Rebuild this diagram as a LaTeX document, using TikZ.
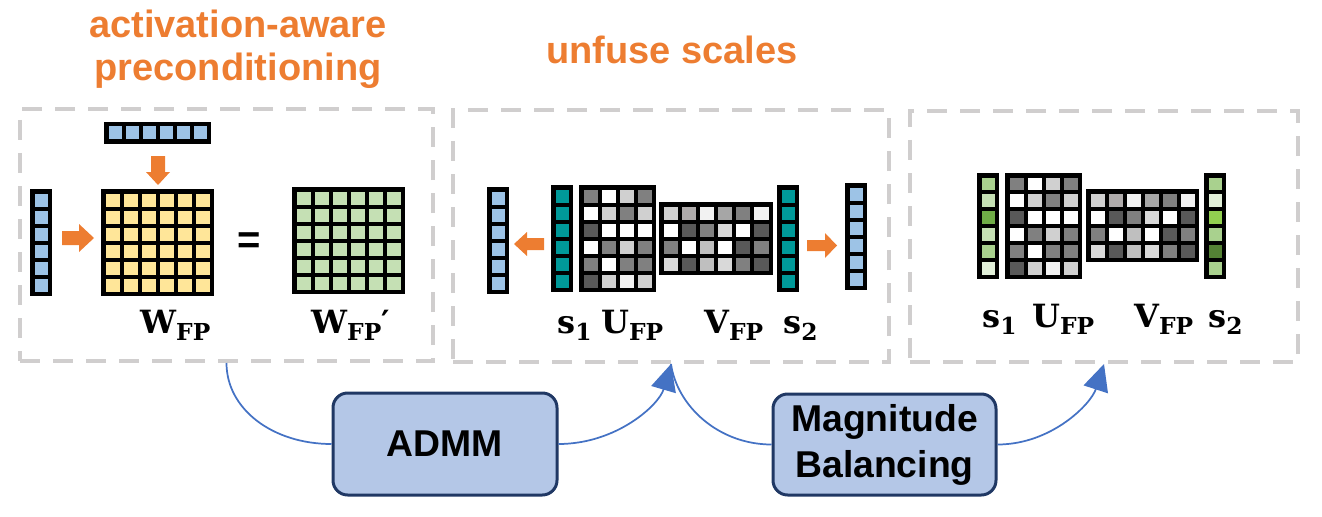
\documentclass[tikz,border=0pt]{standalone}
\usepackage{fontspec}
\setsansfont{Liberation Sans}
\newfontfamily\lblfont{DejaVu Serif}
\usetikzlibrary{arrows.meta}
\definecolor{blu}{HTML}{9DC3E6}
\definecolor{yel}{HTML}{FFE699}
\definecolor{grn}{HTML}{C5E0B4}
\definecolor{tea}{HTML}{009999}
\definecolor{orng}{HTML}{ED7D31}
\definecolor{dashgray}{HTML}{D0CECE}
\definecolor{boxfill}{HTML}{B4C7E7}
\definecolor{boxline}{HTML}{203864}
\definecolor{connblue}{HTML}{4472C4}
\definecolor{gM}{HTML}{808080}
\definecolor{gD}{HTML}{595959}
\definecolor{gL}{HTML}{D0D0D0}
\definecolor{gLL}{HTML}{F2F2F2}
\definecolor{gA}{HTML}{A6A6A6}
\definecolor{gB}{HTML}{BFBFBF}
\definecolor{gT}{HTML}{AFABAB}
\definecolor{gK}{HTML}{D9D9D9}
\definecolor{grA}{HTML}{A9D18E}
\definecolor{grB}{HTML}{C5E0B4}
\definecolor{grC}{HTML}{70AD47}
\definecolor{grD}{HTML}{E2F0D9}
\definecolor{grE}{HTML}{92D050}
\definecolor{grF}{HTML}{548235}
% grid of cells: x0, y0, W, H, ncols, nrows, colour list
\newcommand{\cellgrid}[7]{%
  \fill[black] (#1,#2) rectangle ++(#3,#4);
  \pgfmathsetmacro\cgpx{(#3-5)/#5}%
  \pgfmathsetmacro\cgpy{(#4-5)/#6}%
  \foreach \cgc [count=\cgk from 0] in {#7} {%
    \pgfmathtruncatemacro\cgi{mod(\cgk,#5)}%
    \pgfmathtruncatemacro\cgj{\cgk/#5}%
    \fill[\cgc] ({#1+4.5+\cgi*\cgpx},{#2+4.5+\cgj*\cgpy}) rectangle ++({\cgpx-4},{\cgpy-4});
  }%
}
% uniform grid: x0, y0, W, H, ncols, nrows, colour
\newcommand{\unigrid}[7]{%
  \fill[black] (#1,#2) rectangle ++(#3,#4);
  \pgfmathsetmacro\cgpx{(#3-5)/#5}%
  \pgfmathsetmacro\cgpy{(#4-5)/#6}%
  \pgfmathtruncatemacro\cgnc{#5-1}%
  \pgfmathtruncatemacro\cgnr{#6-1}%
  \foreach \cgi in {0,...,\cgnc} {%
    \foreach \cgj in {0,...,\cgnr} {%
      \fill[#7] ({#1+4.5+\cgi*\cgpx},{#2+4.5+\cgj*\cgpy}) rectangle ++({\cgpx-4},{\cgpy-4});
    }%
  }%
}
\newcommand{\lsub}[2]{#1\raisebox{-0.22em}{\fontsize{17.5}{20}\selectfont #2}}
\tikzset{
  panel/.style={draw=dashgray, line width=3pt, dash pattern=on 15pt off 9.75pt, inner sep=0pt},
  title/.style={text=orng, font=\sffamily\bfseries\fontsize{28.5}{34}\selectfont, inner sep=0pt},
  stepbox/.style={draw=boxline, fill=boxfill, line width=2.25pt, rounded corners=11pt,
    font=\sffamily\bfseries\fontsize{28}{34.5}\selectfont, align=center, inner sep=0pt},
  conn/.style={draw=connblue, line width=1.3pt},
  connarrow/.style={conn, -{Triangle[length=20pt,width=19pt]}, color=connblue},
  mlabel/.style={inner sep=0pt, anchor=base west, font=\lblfont\bfseries\fontsize{24}{28}\selectfont},
  eqsign/.style={inner sep=0pt, font=\sffamily\bfseries\fontsize{30}{34}\selectfont}
}
\begin{document}
\begin{tikzpicture}[x=0.75pt,y=-0.75pt]
\useasboundingbox (0,0) rectangle (1322,517);

% titles
\node[title, anchor=base] (t1a) at (238,38) {activation-aware};
\node[title, anchor=base] (t1b) at (238,81) {preconditioning};
\node[title, anchor=base] (t2) at (672,64) {unfuse scales};

% panels
\node[panel, minimum width=309.75pt, minimum height=189pt] (p1) at (226.5,235) {};
\node[panel, minimum width=327pt, minimum height=189pt] (p2) at (671,236) {};
\node[panel, minimum width=291pt, minimum height=188.25pt] (p3) at (1104,236.5) {};

% ---- panel 1
\unigrid{104}{122}{107}{22}{6}{1}{blu}
\fill[orng] (151,156) -- (165,156) -- (165,172) -- (170,172) -- (158,185) -- (146,172) -- (151,172) -- cycle;
\unigrid{30}{189}{22}{107}{1}{6}{blu}
\fill[orng] (62,231) -- (79,231) -- (79,224) -- (94,238) -- (79,252) -- (79,245) -- (62,245) -- cycle;
\unigrid{101}{189}{113}{107}{6}{6}{yel}
\node[eqsign] (eq) at (249,243) {=};
\unigrid{292}{187}{113}{107}{6}{6}{grn}
\node[mlabel] (lw) at (140,333) {\lsub{W}{FP}};
\node[mlabel] (lwp) at (311,333) {\lsub{W}{FP}′};

% ---- panel 2
\unigrid{487}{187}{22}{107}{1}{6}{blu}
\fill[orng] (544,238) -- (527,238) -- (527,232) -- (514,244) -- (527,256) -- (527,250) -- (544,250) -- cycle;
\unigrid{551}{185}{22}{107}{1}{6}{tea}
\cellgrid{579}{185}{77}{107}{4}{6}{gM,white,gL,gM, white,gL,gM,gL, gD,white,white,white, white,gM,gL,gM, gM,white,gM,gM, gD,gL,gLL,gL}
\cellgrid{659}{202}{114}{73}{6}{4}{gL,gT,gLL,gA,gM,gLL, white,gD,gM,gK,white,gD, gM,white,gB,white,gD,gM, gK,gD,gB,gK,gM,gD}
\unigrid{777}{185}{22}{107}{1}{6}{tea}
\fill[orng] (807,240) -- (825,240) -- (825,233) -- (837,245.5) -- (825,258) -- (825,251) -- (807,251) -- cycle;
\unigrid{845}{183}{22}{107}{1}{6}{blu}
\node[mlabel] (ls1) at (557,333) {\lsub{s}{1}};
\node[mlabel] (lu) at (601,333) {\lsub{U}{FP}};
\node[mlabel] (lv) at (704,333) {\lsub{V}{FP}};
\node[mlabel] (ls2) at (783,333) {\lsub{s}{2}};

% ---- panel 3
\cellgrid{977}{173}{22}{106}{1}{6}{grA,grB,grC,grB,grA,grD}
\cellgrid{1005}{173}{77}{106}{4}{6}{gM,white,gL,gM, white,gL,gM,gL, gD,white,white,white, white,gM,gL,gM, gM,white,gM,gM, gD,gL,gLL,gL}
\cellgrid{1086}{189}{113}{73}{6}{4}{gL,gT,gLL,gA,gM,gLL, white,gD,gM,gK,white,gD, gM,white,gB,white,gD,gM, gK,gD,gB,gK,gM,gD}
\cellgrid{1204}{173}{22}{106}{1}{6}{grA,grD,grE,grA,grF,grA}
\node[mlabel] (rs1) at (982,327) {\lsub{s}{1}};
\node[mlabel] (ru) at (1032,327) {\lsub{U}{FP}};
\node[mlabel] (rv) at (1134,327) {\lsub{V}{FP}};
\node[mlabel] (rs2) at (1208,327) {\lsub{s}{2}};

% ---- step boxes
\node[stepbox, minimum width=168pt, minimum height=76.5pt] (admm) at (445,444) {ADMM};
\node[stepbox, minimum width=167.25pt, minimum height=75.75pt] (mag) at (884.5,444.5) {Magnitude\\Balancing};

% ---- connectors
\draw[conn] (p1.south) .. controls +(0,46) and +(-59,0) .. (admm.west);
\draw[connarrow] (admm.east) .. controls +(58,0) and +(-12,41) .. (p2.south);
\draw[conn] (p2.south) .. controls +(6,42) and +(-53,0) .. (mag.west);
\draw[connarrow] (mag.east) .. controls +(54,0) and +(-13,40) .. (p3.south);
\end{tikzpicture}
\end{document}
